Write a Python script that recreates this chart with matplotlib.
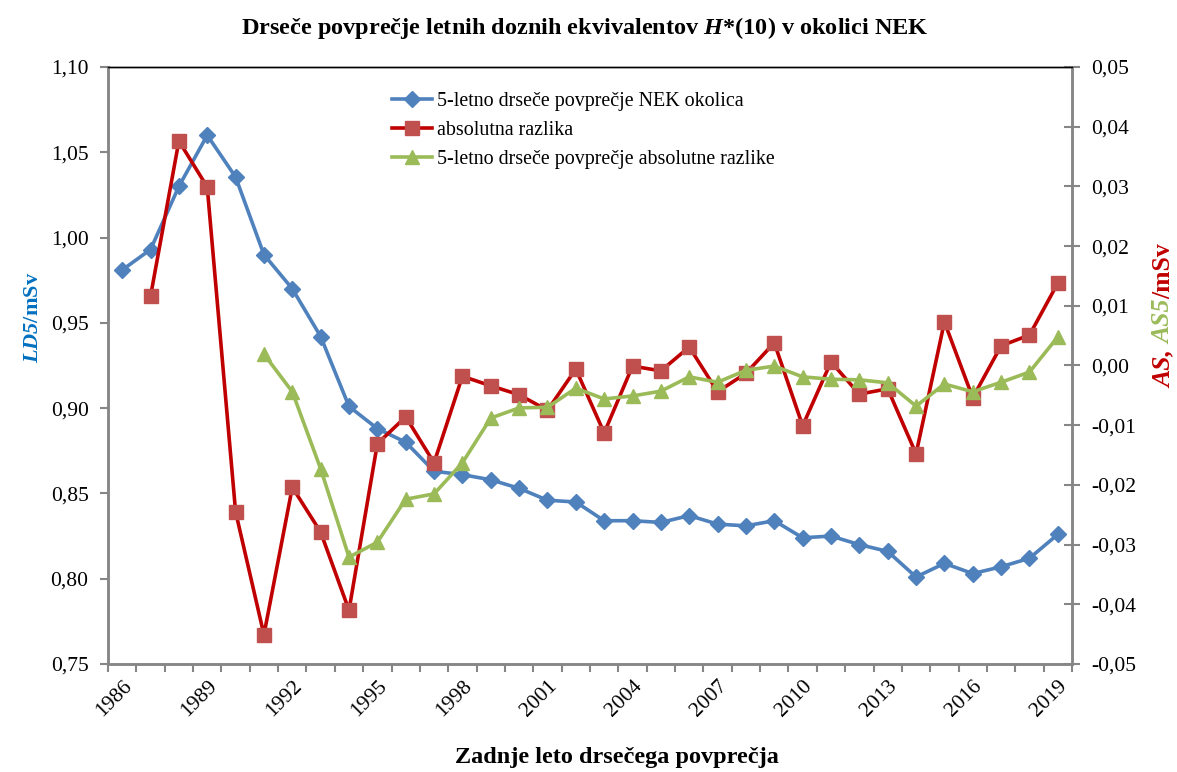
import matplotlib
matplotlib.use("Agg")
import matplotlib.pyplot as plt
from matplotlib.ticker import FuncFormatter, FixedLocator

plt.rcParams['font.family'] = ['Liberation Serif', 'DejaVu Serif']
plt.rcParams['mathtext.fontset'] = 'custom'
plt.rcParams['mathtext.rm'] = 'Liberation Serif'
plt.rcParams['mathtext.it'] = 'Liberation Serif:italic'
plt.rcParams['mathtext.bf'] = 'Liberation Serif:bold'
plt.rcParams['mathtext.bfit'] = 'Liberation Serif:bold:italic'

years = list(range(1986, 2020))

# 5-letno drsece povprecje NEK okolica (levo, mSv)
ld5 = [0.981, 0.993, 1.030, 1.060, 1.0355, 0.990, 0.970, 0.942, 0.901, 0.888,
       0.880, 0.863, 0.861, 0.858, 0.853, 0.846, 0.845, 0.834, 0.834, 0.833,
       0.837, 0.832, 0.831, 0.834, 0.824, 0.825, 0.820, 0.816, 0.801, 0.809,
       0.803, 0.807, 0.812, 0.826]

# absolutna razlika (desno, od 1987)
as_years = list(range(1987, 2020))
as_vals = [0.0116, 0.0376, 0.0299, -0.0245, -0.0451, -0.0204, -0.0279, -0.0410,
           -0.0131, -0.0086, -0.0163, -0.0018, -0.0034, -0.0049, -0.0075, -0.0006,
           -0.0113, -0.0001, -0.0009, 0.0031, -0.0044, -0.0013, 0.0038, -0.0101,
           0.0006, -0.0048, -0.0039, -0.0148, 0.0073, -0.0054, 0.0033, 0.0051,
           0.0138]

# 5-letno drsece povprecje absolutne razlike (desno, od 1991)
as5_years = list(range(1991, 2020))
as5_vals = [0.0019, -0.0044, -0.0173, -0.0321, -0.0296, -0.0224, -0.0215, -0.0163,
            -0.0088, -0.0071, -0.0070, -0.0038, -0.0056, -0.0051, -0.0043, -0.0019,
            -0.0028, -0.0008, -0.0001, -0.0019, -0.0023, -0.0024, -0.0029, -0.0068,
            -0.0031, -0.0044, -0.0028, -0.0011, 0.0048]

label_years = years[::3]

blue = '#4F81BD'
red_line = '#C00000'
red_mark = '#C0504D'
green = '#9BBB59'
gray = '#868686'

fig = plt.figure(figsize=(11.77, 7.72), dpi=100)
ax = fig.add_axes([108 / 1177, 1 - 664 / 772, (1072 - 108) / 1177, (664 - 67) / 772])
ax2 = ax.twinx()

pos = {y: i for i, y in enumerate(years)}

l1, = ax.plot([pos[y] for y in years], ld5, color=blue, lw=2.6, marker='D',
              ms=8.5, mfc=blue, mec=blue, label='5-letno drseče povprečje NEK okolica')
l2, = ax2.plot([pos[y] for y in as_years], as_vals, color=red_line, lw=2.6,
               marker='s', ms=10, mfc=red_mark, mec=red_mark, label='absolutna razlika')
l3, = ax2.plot([pos[y] for y in as5_years], as5_vals, color=green, lw=2.6,
               marker='^', ms=10, mfc=green, mec=green,
               label='5-letno drseče povprečje absolutne razlike')

ax.set_xlim(-0.5, len(years) - 0.5)
ax.set_ylim(0.75, 1.10)
ax2.set_ylim(-0.05, 0.05)

ax.set_yticks([0.75, 0.80, 0.85, 0.90, 0.95, 1.00, 1.05, 1.10])
ax2.set_yticks([-0.05, -0.04, -0.03, -0.02, -0.01, 0.0, 0.01, 0.02, 0.03, 0.04, 0.05])
ax.yaxis.set_major_formatter(FuncFormatter(lambda v, p: f"{v:.2f}".replace('.', ',')))
ax2.yaxis.set_major_formatter(FuncFormatter(lambda v, p: f"{v:.2f}".replace('.', ',').replace('-0,00', '0,00')))

ax.set_xticks([pos[y] for y in label_years])
ax.set_xticklabels([str(y) for y in label_years], rotation=45, ha='right',
                   rotation_mode='anchor')
ax.xaxis.set_minor_locator(FixedLocator([i - 0.5 for i in range(len(years) + 1)]))
ax.tick_params(axis='x', which='major', length=0, pad=9, labelsize=15.5)
ax.tick_params(axis='x', which='minor', length=6, color=gray, width=1.5)
ax.tick_params(axis='y', length=6, color=gray, width=1.5, labelsize=15.5, pad=8)
ax2.tick_params(axis='y', direction='inout', length=12, color=gray, width=1.5,
                labelsize=15.5, pad=8)

for a in (ax, ax2):
    for side in ('left', 'right', 'bottom'):
        a.spines[side].set_color(gray)
        a.spines[side].set_linewidth(1.8)
    a.spines['top'].set_color('black')
    a.spines['top'].set_linewidth(1.0)

fig.legend(handles=[l1, l2, l3], loc='upper left',
           bbox_to_anchor=(384 / 1177, 1 - 84 / 772), frameon=False,
           fontsize=14.4, handlelength=2.0, handletextpad=0.25, labelspacing=0.5,
           borderaxespad=0)

fig.text(585 / 1177, 1 - 28 / 772,
         r"Drseče povprečje letnih doznih ekvivalentov $\mathbfit{H}$*(10) v okolici NEK",
         ha='center', va='center', fontsize=17.5, fontweight='bold')
fig.text(617 / 1177, 1 - 758 / 772, "Zadnje leto drsečega povprečja",
         ha='center', va='center', fontsize=17.5, fontweight='bold')

# levi naslov osi
fig.text(33 / 1177, 1 - 317 / 772, r"$\mathbfit{LD5}$/mSv", rotation=90,
         ha='center', va='center', fontsize=16, fontweight='bold', color='#0070C0')

# desni naslov osi, vecbarvni
fig.canvas.draw()
renderer = fig.canvas.get_renderer()
parts = [("AS, ", red_line), ("AS5", green), ("/mSv", red_line)]
ypix = 388
for txt, col in parts:
    t = fig.text(1164 / 1177, 1 - ypix / 772, txt, rotation=90,
                 ha='center', va='bottom', fontsize=18.5, fontweight='bold',
                 style='italic' if txt != "/mSv" else 'normal', color=col)
    bb = t.get_window_extent(renderer)
    ypix -= bb.height

fig.savefig("out.png", dpi=100)
